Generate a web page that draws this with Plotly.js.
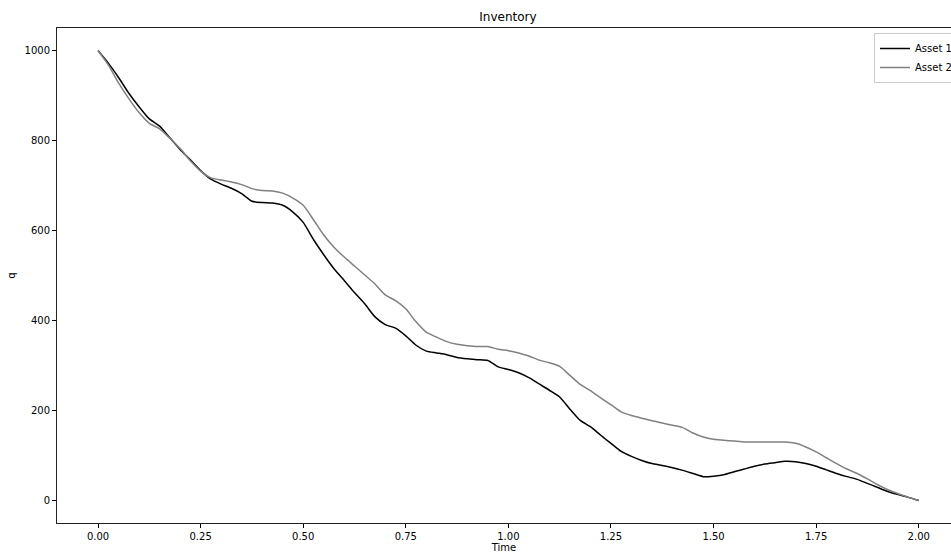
<!DOCTYPE html>
<html>
<head>
<meta charset="utf-8">
<script src="https://cdn.plot.ly/plotly-3.0.1.min.js"></script>
<style>html,body{margin:0;padding:0;background:#fff;overflow:hidden;}#chart{width:951px;height:554px;}</style>
</head>
<body>
<div id="chart"></div>
<script>
const time = [0.000,0.025,0.050,0.075,0.100,0.125,0.150,0.175,0.200,0.225,0.250,0.275,0.300,0.325,0.350,0.375,0.400,0.425,0.450,0.475,0.500,0.525,0.550,0.575,0.600,0.625,0.650,0.675,0.700,0.725,0.750,0.775,0.800,0.825,0.850,0.875,0.900,0.925,0.950,0.975,1.000,1.025,1.050,1.075,1.100,1.125,1.150,1.175,1.200,1.225,1.250,1.275,1.300,1.325,1.350,1.375,1.400,1.425,1.450,1.475,1.500,1.525,1.550,1.575,1.600,1.625,1.650,1.675,1.700,1.725,1.750,1.775,1.800,1.825,1.850,1.875,1.900,1.925,1.950,1.975,2.000];
const asset1 = [1000,972,940,905,875,848,832,806,780,757,733,714,703,694,682,665,662,661,656,641,618,580,546,515,489,462,437,408,391,383,366,345,332,328,324,318,315,313,311,297,291,284,273,259,245,230,203,178,164,145,127,109,98,89,82,78,73,67,60,53,54,57,64,70,76,81,84,87,86,82,76,68,60,53,47,38,29,20,13,7,0];
const asset2 = [1000,968,928,893,862,838,826,805,782,755,732,717,712,708,702,693,689,688,683,672,656,624,590,563,541,521,501,481,457,444,426,397,374,363,353,347,344,342,342,336,333,328,321,312,306,298,278,258,244,228,213,197,189,183,177,172,167,162,150,141,136,134,132,130,130,130,130,130,127,119,108,95,82,70,60,48,35,24,15,7,0];
const seriesNames = ["Asset 1", "Asset 2"];
const xTicks = [0, 0.25, 0.5, 0.75, 1.0, 1.25, 1.5, 1.75, 2.0];
const yTicks = [0, 200, 400, 600, 800, 1000];

const font = {family: "DejaVu Sans, sans-serif", size: 10, color: "#000"};
const traces = [
  {x: time, y: asset1, name: seriesNames[0], type: "scatter", mode: "lines", line: {color: "#000000", width: 1.5, shape: "spline", smoothing: 0.6}},
  {x: time, y: asset2, name: seriesNames[1], type: "scatter", mode: "lines", line: {color: "#808080", width: 1.5, shape: "spline", smoothing: 0.6}}
];
const layout = {
  width: 951, height: 554,
  margin: {l: 57, r: 0, t: 28, b: 31, pad: 0, autoexpand: false},
  paper_bgcolor: "#fff", plot_bgcolor: "#fff",
  font: font,
  title: {text: "Inventory", font: {family: "DejaVu Sans, sans-serif", size: 12, color: "#000"},
          xref: "container", yref: "container", x: 508/951, xanchor: "center", y: 1 - 17/554, yanchor: "middle"},
  xaxis: {range: [-0.1, 2.0787], tickvals: xTicks, ticktext: xTicks.map(v => v.toFixed(2)),
          ticks: "outside", ticklen: 4, tickwidth: 1, tickcolor: "#000",
          showline: true, linecolor: "#222", linewidth: 1, mirror: true,
          showgrid: false, zeroline: false, tickfont: font,
          title: {text: "Time", font: font, standoff: 2}, automargin: false},
  yaxis: {range: [-50, 1050], tickvals: yTicks, ticktext: yTicks.map(String),
          ticks: "outside", ticklen: 4, tickwidth: 1, tickcolor: "#000",
          showline: true, linecolor: "#222", linewidth: 1, mirror: false,
          showgrid: false, zeroline: false, tickfont: font,
          title: {text: "q", font: font, standoff: 7}, automargin: false},
  showlegend: true,
  legend: {x: (874-57)/894, y: 1 - 5/495, xanchor: "left", yanchor: "top",
           bgcolor: "rgba(255,255,255,0.8)", bordercolor: "#cccccc", borderwidth: 1,
           font: font, tracegroupgap: 0, itemwidth: 30}
};
Plotly.newPlot("chart", traces, layout, {staticPlot: true, displayModeBar: false});
</script>
</body>
</html>
